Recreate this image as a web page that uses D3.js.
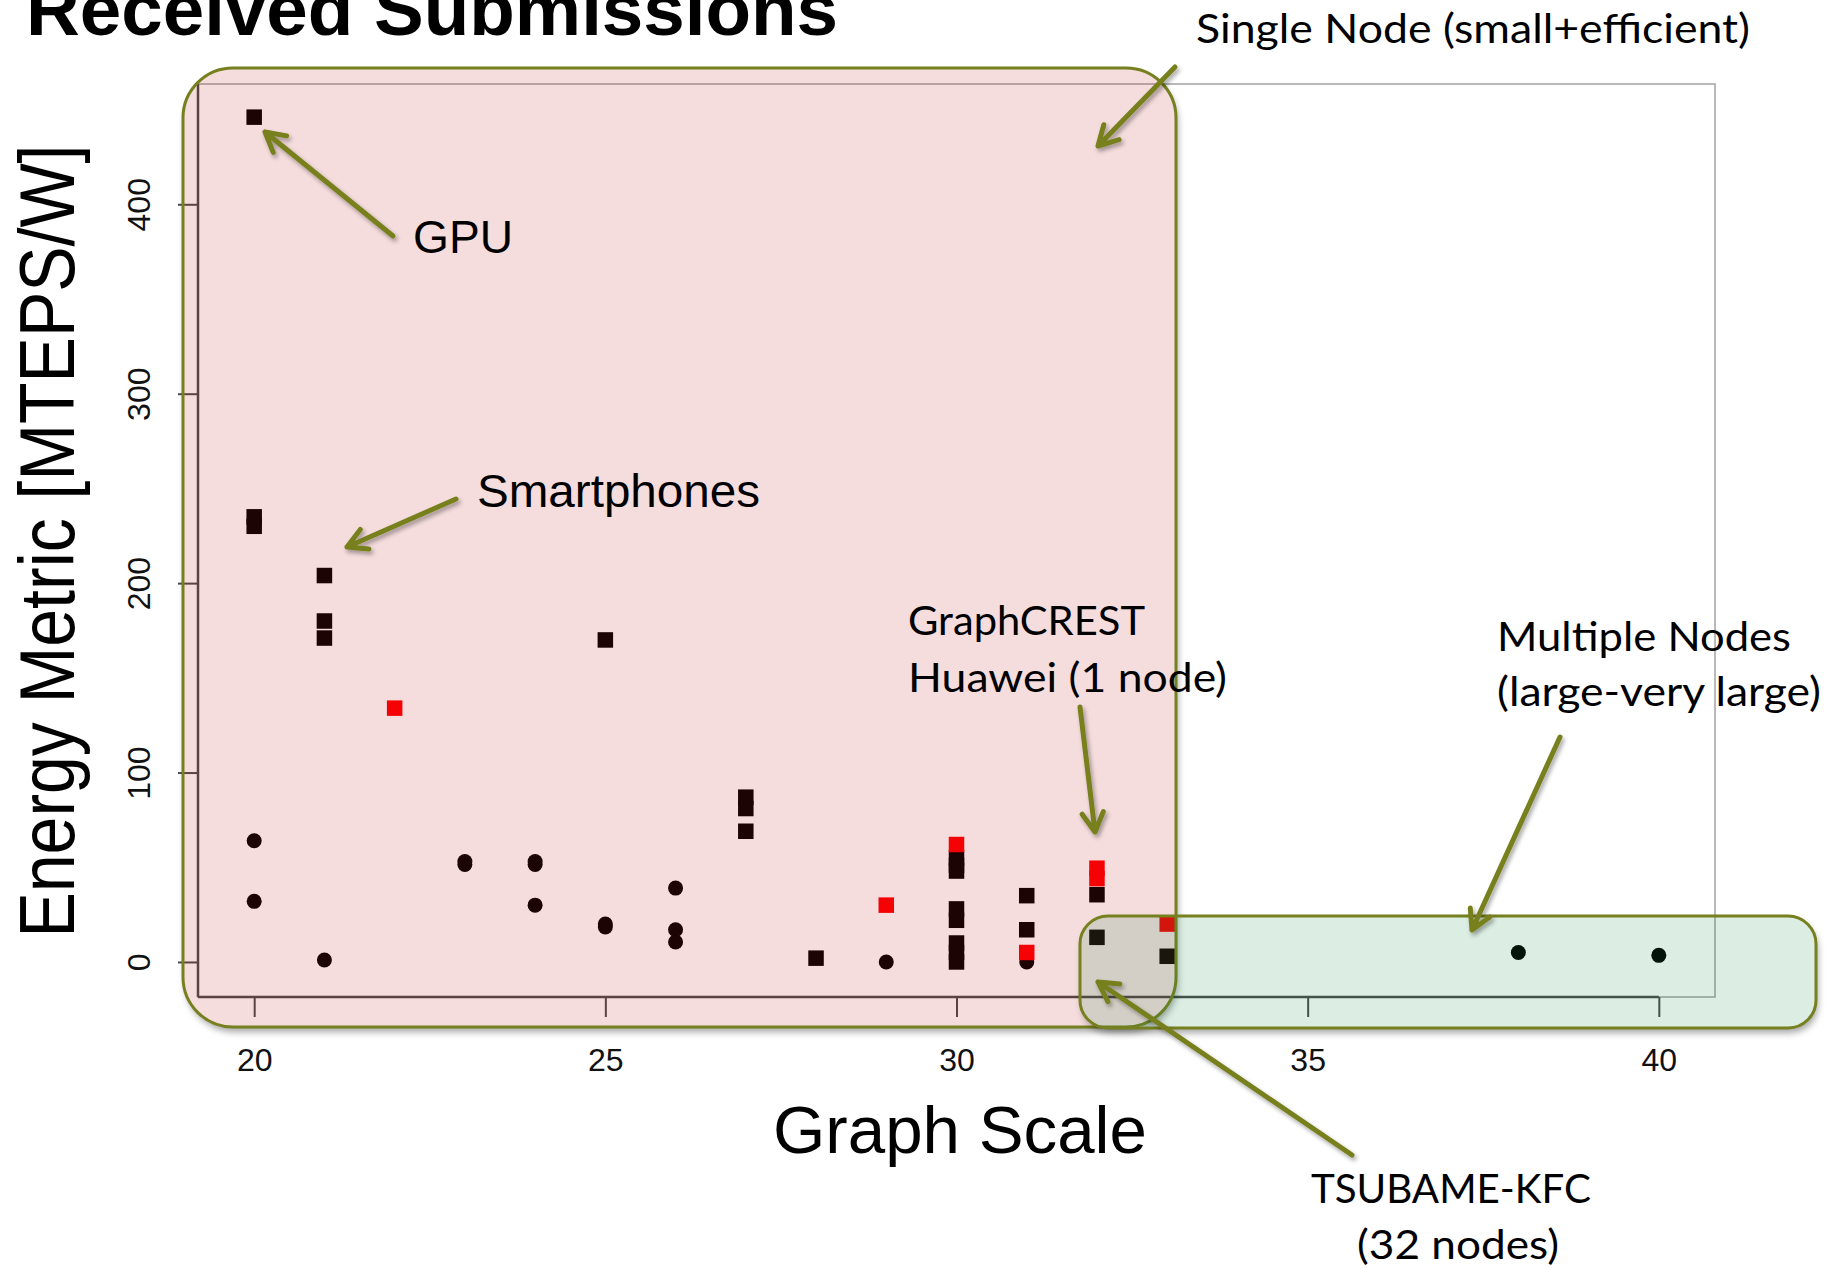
<!DOCTYPE html>
<html>
<head>
<meta charset="utf-8">
<title>Received Submissions</title>
<script src="https://d3js.org/d3.v7.min.js"></script>
<style>
  body { margin: 0; background: #ffffff; }
  svg { display: block; }
</style>
</head>
<body>
<svg id="drawing_region"></svg>
<script>
// values: graph scale vs. energy metric [MTEPS/W]
const black_square_scale  = [20, 20, 20, 21, 21, 21, 25, 27, 27, 27, 28, 30, 30, 30, 30, 30, 30, 30, 30, 31, 31, 32, 32, 33];
const black_square_energy = [446, 235, 230, 204, 180, 171, 170, 87, 81, 69, 2, 55, 51, 48, 28, 22, 10, 5, 0, 35, 17, 35.5, 13, 3];

const red_square_scale  = [22, 29, 30, 31, 32, 32, 33];
const red_square_energy = [134, 30, 62, 5, 49.5, 44, 20];

const circle_scale  = [20, 20, 21, 23, 23, 24, 24, 24, 25, 25, 26, 26, 26, 29, 31, 38, 40];
const circle_energy = [64, 32, 1, 53, 51.5, 53, 51.5, 30, 20, 18.5, 39, 17, 10.5, 0, 0, 5, 3.5];

const x_ticks = [20, 25, 30, 35, 40];
const y_ticks = [0, 100, 200, 300, 400];

const title_text = 'Received Submissions';
const x_label = 'Graph Scale';
const y_label = 'Energy Metric [MTEPS/W]';

const config = {
    parent: '#drawing_region',
    width: 1829,
    height: 1268,
    frame: {left: 198, right: 1715, top: 84, bottom: 997}
};

const olive = '#77801e';
const r_font = '"Liberation Sans", Arial, Helvetica, sans-serif';
const note_font = 'Lato, "Open Sans", sans-serif';

const svg = d3.select(config.parent)
    .attr('width', config.width)
    .attr('height', config.height);

const f = config.frame;
const xscale = d3.scaleLinear().domain([19.2, 40.8]).range([f.left, f.right]);
const yscale = d3.scaleLinear().domain([-18.5, 463.5]).range([f.bottom, f.top]);

// filters for the powerpoint style shadows
const defs = svg.append('defs');
const arrow_shadow = defs.append('filter')
    .attr('id', 'arrow_shadow')
    .attr('filterUnits', 'userSpaceOnUse')
    .attr('x', 0).attr('y', 0)
    .attr('width', config.width).attr('height', config.height);
arrow_shadow.append('feDropShadow')
    .attr('dx', 2).attr('dy', 3).attr('stdDeviation', 2)
    .attr('flood-color', '#000').attr('flood-opacity', 0.35);

const box_blur = defs.append('filter')
    .attr('id', 'box_blur')
    .attr('filterUnits', 'userSpaceOnUse')
    .attr('x', 0).attr('y', 0)
    .attr('width', config.width).attr('height', config.height);
box_blur.append('feGaussianBlur').attr('stdDeviation', 3.5);

// ---- the R plot
const chart = svg.append('g');

chart.append('rect')
    .attr('x', f.left).attr('y', f.top)
    .attr('width', f.right - f.left).attr('height', f.bottom - f.top)
    .attr('fill', 'none')
    .attr('stroke', '#a3a3a3')
    .attr('stroke-width', 1.5);

chart.append('line')
    .attr('x1', f.left).attr('x2', f.left)
    .attr('y1', f.top).attr('y2', f.bottom)
    .attr('stroke', '#4a4a4a').attr('stroke-width', 2.5);

chart.append('line')
    .attr('x1', f.left).attr('x2', xscale(40))
    .attr('y1', f.bottom).attr('y2', f.bottom)
    .attr('stroke', '#4a4a4a').attr('stroke-width', 2.5);

const xaxis_group = chart.append('g')
    .attr('transform', `translate(0, ${f.bottom})`)
    .call(d3.axisBottom(xscale).tickValues(x_ticks).tickSize(20).tickPadding(31));
xaxis_group.select('.domain').remove();
xaxis_group.selectAll('line').attr('stroke', '#4a4a4a').attr('stroke-width', 2);
xaxis_group.selectAll('text')
    .attr('fill', '#111')
    .style('font-family', r_font)
    .style('font-size', '32px');

const yaxis_group = chart.append('g')
    .attr('transform', `translate(${f.left}, 0)`)
    .call(d3.axisLeft(yscale).tickValues(y_ticks).tickSize(20));
yaxis_group.select('.domain').remove();
yaxis_group.selectAll('line').attr('stroke', '#4a4a4a').attr('stroke-width', 2);
yaxis_group.selectAll('text')
    .attr('x', null)
    .attr('dy', null)
    .attr('transform', 'translate(-48,0) rotate(-90)')
    .attr('text-anchor', 'middle')
    .attr('fill', '#111')
    .style('font-family', r_font)
    .style('font-size', '32px');

chart.append('text')
    .attr('x', 960)
    .attr('y', 1153)
    .attr('text-anchor', 'middle')
    .attr('textLength', 374)
    .attr('lengthAdjust', 'spacingAndGlyphs')
    .style('font-family', r_font)
    .style('font-size', '67px')
    .text(x_label);

chart.append('text')
    .attr('transform', 'translate(74, 541) rotate(-90)')
    .attr('text-anchor', 'middle')
    .attr('textLength', 793)
    .attr('lengthAdjust', 'spacingAndGlyphs')
    .style('font-family', r_font)
    .style('font-size', '77px')
    .text(y_label);

// points
const sq = 15.5;
chart.selectAll('.black_square')
    .data(d3.zip(black_square_scale, black_square_energy))
    .join('rect')
    .attr('class', 'black_square')
    .attr('x', d => xscale(d[0]) - sq / 2)
    .attr('y', d => yscale(d[1]) - sq / 2)
    .attr('width', sq).attr('height', sq)
    .attr('fill', '#000');

chart.selectAll('.circle')
    .data(d3.zip(circle_scale, circle_energy))
    .join('circle')
    .attr('class', 'circle')
    .attr('cx', d => xscale(d[0]))
    .attr('cy', d => yscale(d[1]))
    .attr('r', 7.5)
    .attr('fill', '#000');

chart.selectAll('.red_square')
    .data(d3.zip(red_square_scale, red_square_energy))
    .join('rect')
    .attr('class', 'red_square')
    .attr('x', d => xscale(d[0]) - sq / 2)
    .attr('y', d => yscale(d[1]) - sq / 2)
    .attr('width', sq).attr('height', sq)
    .attr('fill', '#ff0000');

// ---- slide annotations (pixel layout of the overlay)
const boxes = [
    {x: 183, y: 68, w: 993, h: 959, r: 50, fill: 'rgb(188,22,28)'},
    {x: 1080, y: 916, w: 736, h: 112, r: 28, fill: 'rgb(22,135,68)'}
];

const notes = [
    {text: 'Single Node (small+efficient)', x: 1196, y: 43, len: 554},
    {text: 'GraphCREST', x: 908, y: 635, len: 237},
    {text: 'Huawei (1 node)', x: 908, y: 692, len: 319},
    {text: 'Multiple Nodes', x: 1497, y: 651, len: 294},
    {text: '(large-very large)', x: 1497, y: 706, len: 324},
    {text: 'TSUBAME-KFC', x: 1311, y: 1203, len: 280},
    {text: '(32 nodes)', x: 1357, y: 1259, len: 202}
];

const labels = [
    {text: 'GPU', x: 413, y: 253, len: 100},
    {text: 'Smartphones', x: 477, y: 507, len: 283}
];

const arrows = [
    {x1: 393, y1: 236, x2: 265, y2: 132},
    {x1: 456, y1: 499, x2: 347, y2: 547},
    {x1: 1175, y1: 67, x2: 1098, y2: 146},
    {x1: 1080, y1: 707, x2: 1095, y2: 832},
    {x1: 1560, y1: 737, x2: 1472, y2: 930},
    {x1: 1352, y1: 1155, x2: 1098, y2: 982}
];

const overlay = svg.append('g');

boxes.forEach((b, i) => {
    // shadow only outside the box
    const m = defs.append('mask')
        .attr('id', 'outside_' + i)
        .attr('maskUnits', 'userSpaceOnUse')
        .attr('x', 0).attr('y', 0)
        .attr('width', config.width).attr('height', config.height);
    m.append('rect')
        .attr('width', config.width).attr('height', config.height)
        .attr('fill', '#fff');
    m.append('rect')
        .attr('x', b.x).attr('y', b.y).attr('width', b.w).attr('height', b.h)
        .attr('rx', b.r).attr('ry', b.r)
        .attr('fill', '#000');

    overlay.append('g')
        .attr('mask', `url(#outside_${i})`)
        .append('rect')
        .attr('x', b.x + 2).attr('y', b.y + 5).attr('width', b.w).attr('height', b.h)
        .attr('rx', b.r).attr('ry', b.r)
        .attr('fill', '#000')
        .attr('opacity', 0.35)
        .attr('filter', 'url(#box_blur)');

    overlay.append('rect')
        .attr('x', b.x).attr('y', b.y).attr('width', b.w).attr('height', b.h)
        .attr('rx', b.r).attr('ry', b.r)
        .attr('fill', b.fill)
        .attr('fill-opacity', 0.15)
        .attr('stroke', olive)
        .attr('stroke-width', 3);
});

// title sits on the slide's top edge, clipped as in the original
overlay.append('text')
    .attr('x', 26)
    .attr('y', 35)
    .attr('textLength', 812)
    .attr('lengthAdjust', 'spacingAndGlyphs')
    .style('font-family', r_font)
    .style('font-weight', 'bold')
    .style('font-size', '74px')
    .text(title_text);

labels.forEach(d => {
    overlay.append('text')
        .attr('x', d.x).attr('y', d.y)
        .attr('textLength', d.len)
        .attr('lengthAdjust', 'spacingAndGlyphs')
        .style('font-family', r_font)
        .style('font-size', '47px')
        .text(d.text);
});

notes.forEach(d => {
    overlay.append('text')
        .attr('x', d.x).attr('y', d.y)
        .attr('textLength', d.len)
        .attr('lengthAdjust', 'spacingAndGlyphs')
        .style('font-family', note_font)
        .style('font-size', '40px')
        .text(d.text);
});

const head_len = 22;
const head_angle = 29 * Math.PI / 180;

overlay.selectAll('.arrow')
    .data(arrows)
    .join('path')
    .attr('class', 'arrow')
    .attr('d', d => {
        const a = Math.atan2(d.y1 - d.y2, d.x1 - d.x2);
        const p1 = [d.x2 + head_len * Math.cos(a + head_angle), d.y2 + head_len * Math.sin(a + head_angle)];
        const p2 = [d.x2 + head_len * Math.cos(a - head_angle), d.y2 + head_len * Math.sin(a - head_angle)];
        return `M${d.x1},${d.y1}L${d.x2},${d.y2}M${p1[0]},${p1[1]}L${d.x2},${d.y2}L${p2[0]},${p2[1]}`;
    })
    .attr('fill', 'none')
    .attr('stroke', olive)
    .attr('stroke-width', 5)
    .attr('stroke-linecap', 'round')
    .attr('stroke-linejoin', 'round')
    .attr('filter', 'url(#arrow_shadow)');
</script>
</body>
</html>
